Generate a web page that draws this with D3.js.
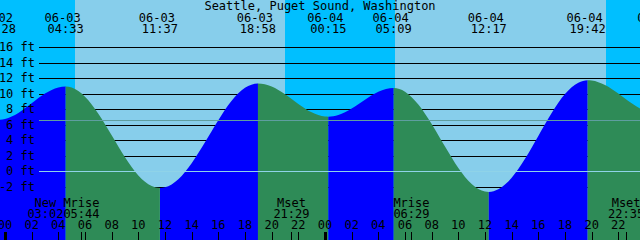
<!DOCTYPE html>
<html>
<head>
<meta charset="utf-8">
<script src="https://cdn.jsdelivr.net/npm/d3@7"></script>
<style>
  body { margin: 0; background: #fff; }
  svg { display: block; }
  text { font-family: "DejaVu Sans Mono", "Liberation Mono", monospace; font-size: 12px; fill: #000; }
</style>
</head>
<body>
<div id="tide"></div>
<script>
// size of the picture
const width = 640
const height = 240

const title = "Seattle, Puget Sound, Washington"

// water level read every hour, hours counted from 06-03 00:00
const sampleHours = d3.range(-1, 49)
const sampleLevels = [6.65, 6.71, 7.49, 8.74, 9.99, 10.78, 10.77, 9.59, 7.38, 4.60,
  1.76, -0.58, -1.95, -2.11, -1.06, 1.00, 3.70, 6.55, 9.05, 10.73,
  11.30, 10.91, 9.91, 8.66, 7.57, 7.02, 7.21, 8.05, 9.20, 10.22,
  10.69, 10.24, 8.59, 6.07, 3.16, 0.40, -1.67, -2.65, -2.37, -0.87,
  1.57, 4.53, 7.49, 9.92, 11.38, 11.67, 11.09, 9.99, 8.74, 7.77]

// high and low tides
const eventDates = ["06-02", "06-03", "06-03", "06-03", "06-04", "06-04", "06-04", "06-04", "06-05"]
const eventTimes = ["23:28", "04:33", "11:37", "18:58", "00:15", "05:09", "12:17", "19:42", "01:00"]
const eventLevels = [6.6, 10.9, -2.2, 11.3, 7.0, 10.7, -2.7, 11.7, 7.4]

// moon events along the bottom
const moonNames = ["New", "Mrise", "Mset", "Mrise", "Mset"]
const moonDates = ["06-03", "06-03", "06-03", "06-04", "06-04"]
const moonTimes = ["03:02", "05:44", "21:29", "06:29", "22:35"]

// sunrise / sunset, night is drawn darker
const sunDates = ["06-03", "06-03", "06-04", "06-04"]
const sunTimes = ["05:15", "21:00", "05:15", "21:05"]

// depth labels on the left
const depthTicks = [16, 14, 12, 10, 8, 6, 4, 2, 0, -2]
const meanSeaLevel = 6.6

// colours
const dayColor = "#87ceeb"
const nightColor = "#00bfff"
const riseColor = "#0000ff"
const fallColor = "#2e8b57"

// turn "06-04" + "05:09" into hours from 06-03 00:00
function toHours(date, time) {
  var day = +date.split("-")[1] - 3
  var hm = time.split(":")
  return day * 24 + (+hm[0]) + (+hm[1]) / 60
}

var eventHours = eventDates.map(function(d, i) { return toHours(d, eventTimes[i]); })
var moonHours = moonDates.map(function(d, i) { return toHours(d, moonTimes[i]); })
var sunHours = sunDates.map(function(d, i) { return toHours(d, sunTimes[i]); })

// scales
var xScale = d3.scaleLinear()
    .domain([0, 48])
    .range([5, 645])

var yScale = d3.scaleLinear()
    .domain([-2, 16])
    .range([186.5, 47])

var tStart = xScale.invert(0)
var tEnd = xScale.invert(width)

var svg = d3.select("#tide")
  .append("svg")
    .attr("width", width)
    .attr("height", height)

// background: day then the nights on top
svg.append("rect")
    .attr("width", width)
    .attr("height", height)
    .attr("fill", dayColor)

var nights = [[tStart, sunHours[0]], [sunHours[1], sunHours[2]], [sunHours[3], tEnd]]
svg.append("g")
  .selectAll("rect")
    .data(nights)
    .enter()
    .append("rect")
    .attr("x", function(d) { return Math.round(xScale(d[0])); })
    .attr("y", 0)
    .attr("width", function(d) { return Math.round(xScale(d[1])) - Math.round(xScale(d[0])); })
    .attr("height", height)
    .attr("fill", nightColor)

// depth lines, only visible above the water
svg.append("g")
  .selectAll("line")
    .data(depthTicks)
    .enter()
    .append("line")
    .attr("x1", 39)
    .attr("x2", width)
    .attr("y1", function(d) { return Math.round(yScale(d)) + 0.5; })
    .attr("y2", function(d) { return Math.round(yScale(d)) + 0.5; })
    .attr("stroke", "#000")
    .attr("shape-rendering", "crispEdges")

// curve points: the hourly readings plus the highs and lows
var points = sampleHours.map(function(h, i) { return {t: h, v: sampleLevels[i]}; })
eventHours.forEach(function(h, i) {
  points = points.filter(function(p) { return Math.abs(p.t - h) > 0.2; })
  points.push({t: h, v: eventLevels[i]})
})
points.sort(function(a, b) { return a.t - b.t; })

var water = d3.area()
    .x(function(d) { return xScale(d.t); })
    .y0(height)
    .y1(function(d) { return yScale(d.v); })
    .curve(d3.curveMonotoneX)

// one piece of water per tide, blue while rising, green while falling
var bounds = [xScale(-2)].concat(eventHours.map(function(h) { return xScale(h); })).concat([xScale(52)])
var pieces = d3.range(bounds.length - 1).map(function(i) {
  var rising = i > 0 && i < eventLevels.length ? eventLevels[i] > eventLevels[i - 1] : i == 0 ? false : eventLevels[i - 1] < 9
  return {x0: bounds[i], x1: bounds[i + 1], rising: rising}
})

var defs = svg.append("defs")
pieces.forEach(function(p, i) {
  defs.append("clipPath")
      .attr("id", "piece" + i)
    .append("rect")
      .attr("x", p.x0)
      .attr("y", 0)
      .attr("width", p.x1 - p.x0)
      .attr("height", height)

  svg.append("path")
      .datum(points)
      .attr("clip-path", "url(#piece" + i + ")")
      .attr("d", water)
      .attr("fill", p.rising ? riseColor : fallColor)
})

// mean sea level and datum lines drawn over the water
svg.append("line")
    .attr("x1", 39)
    .attr("x2", width)
    .attr("y1", Math.round(yScale(meanSeaLevel)) + 0.5)
    .attr("y2", Math.round(yScale(meanSeaLevel)) + 0.5)
    .attr("stroke", "#5f9ea0")
    .attr("shape-rendering", "crispEdges")

svg.append("line")
    .attr("x1", 39)
    .attr("x2", width)
    .attr("y1", Math.round(yScale(0)) + 0.5)
    .attr("y2", Math.round(yScale(0)) + 0.5)
    .attr("stroke", "#8fd3e8")
    .attr("shape-rendering", "crispEdges")

// depth labels
svg.append("g")
  .selectAll("text")
    .data(depthTicks)
    .enter()
    .append("text")
    .attr("x", 35)
    .attr("y", function(d) { return yScale(d) + 4; })
    .attr("text-anchor", "end")
    .text(function(d) { return d + " ft"; })

// title
svg.append("text")
    .attr("x", width / 2)
    .attr("y", 10)
    .attr("text-anchor", "middle")
    .text(title)

// high / low labels on top
var events = svg.append("g")
events.selectAll(".date")
    .data(eventDates)
    .enter()
    .append("text")
    .attr("class", "date")
    .attr("x", function(d, i) { return xScale(eventHours[i]) - 3; })
    .attr("y", 21.5)
    .attr("text-anchor", "middle")
    .text(function(d) { return d; })

events.selectAll(".time")
    .data(eventTimes)
    .enter()
    .append("text")
    .attr("class", "time")
    .attr("x", function(d, i) { return xScale(eventHours[i]); })
    .attr("y", 33)
    .attr("text-anchor", "middle")
    .text(function(d) { return d; })

// moon labels at the bottom
var moon = svg.append("g")
moon.selectAll(".mname")
    .data(moonNames)
    .enter()
    .append("text")
    .attr("class", "mname")
    .attr("x", function(d, i) { return xScale(moonHours[i]); })
    .attr("y", 206.5)
    .attr("text-anchor", "middle")
    .text(function(d) { return d; })

moon.selectAll(".mtime")
    .data(moonTimes)
    .enter()
    .append("text")
    .attr("class", "mtime")
    .attr("x", function(d, i) { return xScale(moonHours[i]); })
    .attr("y", 218)
    .attr("text-anchor", "middle")
    .text(function(d) { return d; })

// moonrise / moonset ticks (no tick for the phase)
moon.selectAll("line")
    .data(moonHours.filter(function(h, i) { return moonNames[i] != "New"; }))
    .enter()
    .append("line")
    .attr("x1", function(d) { return Math.round(xScale(d)) + 0.5; })
    .attr("x2", function(d) { return Math.round(xScale(d)) + 0.5; })
    .attr("y1", 232)
    .attr("y2", height)
    .attr("stroke", "#000")
    .attr("shape-rendering", "crispEdges")

// hour axis, every 2 hours
var hourTicks = d3.range(0, 48, 2)
var hourAxis = svg.append("g")
hourAxis.selectAll("text")
    .data(hourTicks)
    .enter()
    .append("text")
    .attr("x", function(d) { return xScale(d); })
    .attr("y", 229)
    .attr("text-anchor", "middle")
    .text(function(d) { return d3.format("02")(d % 24); })

hourAxis.selectAll("rect")
    .data(hourTicks)
    .enter()
    .append("rect")
    .attr("x", function(d) { return Math.round(xScale(d)) - (d % 24 == 0 ? 1 : 0); })
    .attr("y", 232)
    .attr("width", function(d) { return d % 24 == 0 ? 3 : 1; })
    .attr("height", height - 232)
    .attr("fill", "#000")
</script>
</body>
</html>
